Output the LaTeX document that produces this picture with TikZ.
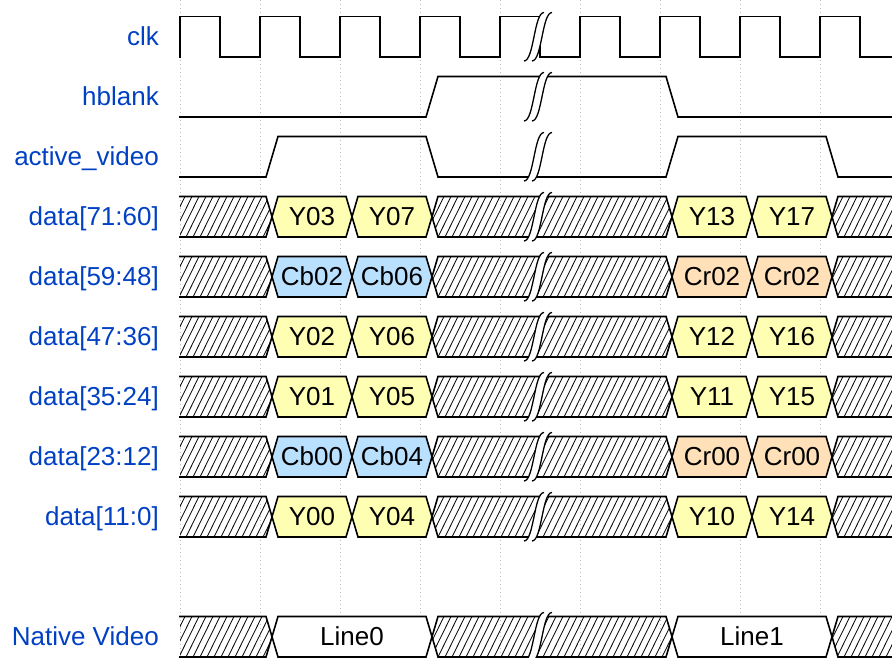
\documentclass[tikz,border=0pt]{standalone}
\usepackage{fontspec}
\setmainfont{Liberation Sans}
\definecolor{lblblue}{HTML}{0041C4}
\definecolor{dyel}{HTML}{FFFFB4}
\definecolor{dblu}{HTML}{B9E0FF}
\definecolor{dorg}{HTML}{FFE0B9}
\definecolor{gridc}{HTML}{BBBBBB}
\newcommand\setrow[1]{\pgfmathsetmacro\rT{16.5+60*#1}\pgfmathsetmacro\rB{57+60*#1}\pgfmathsetmacro\rM{(\rT+\rB)/2}}
\newcommand\hatchfill[1]{\begin{scope}\clip #1; \foreach \hx in {130,137,...,900} \draw[hatchln] (\hx,\rB) -- (\hx+20,\rT); \end{scope}}
\newcommand\dbox[5]{%
  \draw[sig, fill=#3] (#1,\rM) -- (#1+6,\rT) -- (#2-6,\rT) -- (#2,\rM) -- (#2-6,\rB) -- (#1+6,\rB) -- cycle;
  \node[boxtxt] (#5) at ({(#1+#2)/2},\rM+8.5) {#4};}
\newcommand\hatchrow{%
  \hatchfill{(180,\rT) -- (266,\rT) -- (272,\rM) -- (266,\rB) -- (180,\rB) -- cycle}
  \draw[sig] (180,\rT) -- (266,\rT) -- (272,\rM) -- (266,\rB) -- (180,\rB);
  \hatchfill{(432,\rM) -- (438,\rT) -- (666,\rT) -- (672,\rM) -- (666,\rB) -- (438,\rB) -- cycle}
  \draw[sig] (432,\rM) -- (438,\rT) -- (666,\rT) -- (672,\rM) -- (666,\rB) -- (438,\rB) -- cycle;
  \hatchfill{(832,\rM) -- (838,\rT) -- (900,\rT) -- (900,\rB) -- (838,\rB) -- cycle}
  \draw[sig] (900,\rT) -- (838,\rT) -- (832,\rM) -- (838,\rB) -- (900,\rB);}
\newcommand\gapmark{%
  \fill[white] (524,\rB+4) .. controls (534,\rB+4) and (534,\rT-4) .. (544,\rT-4) -- (552,\rT-4) .. controls (542,\rT-4) and (542,\rB+4) .. (532,\rB+4) -- cycle;
  \draw[gapln] (524,\rB+4) .. controls (534,\rB+4) and (534,\rT-4) .. (544,\rT-4);
  \draw[gapln] (532,\rB+4) .. controls (542,\rB+4) and (542,\rT-4) .. (552,\rT-4);}
% row index, prefix, label, fill1, t1, t2, fill2, t3, t4
\newcommand\datarow[9]{%
  \setrow{#1}
  \node[lbl] (#2-lbl) at (159,\rM+8.5) {#3};
  \hatchrow
  \dbox{272}{352}{#4}{#5}{#2-a}
  \dbox{352}{432}{#4}{#6}{#2-b}
  \dbox{672}{752}{#7}{#8}{#2-c}
  \dbox{752}{832}{#7}{#9}{#2-d}
  \gapmark}
\begin{document}
\begin{tikzpicture}[x=1pt,y=-1pt,
  sig/.style={line width=1.6pt, line join=miter, line cap=rect},
  hatchln/.style={line width=0.8pt},
  gapln/.style={line width=1.3pt},
  gridln/.style={gridc, line width=0.8pt, dash pattern=on 1pt off 3pt},
  lbl/.style={anchor=base east, text=lblblue, font=\fontsize{26}{30}\selectfont, inner sep=0pt},
  boxtxt/.style={anchor=base, font=\fontsize{26}{30}\selectfont, inner sep=0pt},
]
\useasboundingbox (0,0) rectangle (892,658);
\clip (0,0) rectangle (892,658);
\fill[white] (0,0) rectangle (892,658);
\foreach \gx in {180,260,...,820} \draw[gridln] (\gx,0) -- (\gx,658);
% clk
\setrow{0}
\node[lbl] (clk-lbl) at (159,\rM+8.5) {clk};
\draw[sig] (180,\rB) -- (180,\rT) \foreach \k in {0,...,8} { -- ({180+80*\k+40},\rT) -- ({180+80*\k+40},\rB) -- ({180+80*\k+80},\rB) -- ({180+80*\k+80},\rT) };
\gapmark
% hblank
\setrow{1}
\node[lbl] (hb-lbl) at (159,\rM+8.5) {hblank};
\draw[sig] (180,\rB) -- (426,\rB) -- (438,\rT) -- (666,\rT) -- (678,\rB) -- (900,\rB);
\gapmark
% active_video
\setrow{2}
\node[lbl] (av-lbl) at (159,\rM+8.5) {active\_video};
\draw[sig] (180,\rB) -- (266,\rB) -- (278,\rT) -- (426,\rT) -- (438,\rB) -- (666,\rB) -- (678,\rT) -- (826,\rT) -- (838,\rB) -- (900,\rB);
\gapmark
% data rows
\datarow{3}{d71}{data[71:60]}{dyel}{Y03}{Y07}{dyel}{Y13}{Y17}
\datarow{4}{d59}{data[59:48]}{dblu}{Cb02}{Cb06}{dorg}{Cr02}{Cr02}
\datarow{5}{d47}{data[47:36]}{dyel}{Y02}{Y06}{dyel}{Y12}{Y16}
\datarow{6}{d35}{data[35:24]}{dyel}{Y01}{Y05}{dyel}{Y11}{Y15}
\datarow{7}{d23}{data[23:12]}{dblu}{Cb00}{Cb04}{dorg}{Cr00}{Cr00}
\datarow{8}{d11}{data[11:0]}{dyel}{Y00}{Y04}{dyel}{Y10}{Y14}
% native video
\setrow{10}
\node[lbl] (nv-lbl) at (159,\rM+8.5) {Native Video};
\hatchrow
\draw[sig, fill=white] (272,\rM) -- (278,\rT) -- (426,\rT) -- (432,\rM) -- (426,\rB) -- (278,\rB) -- cycle;
\node[boxtxt] (nv-a) at (352,\rM+8.5) {Line0};
\draw[sig, fill=white] (672,\rM) -- (678,\rT) -- (826,\rT) -- (832,\rM) -- (826,\rB) -- (678,\rB) -- cycle;
\node[boxtxt] (nv-b) at (752,\rM+8.5) {Line1};
\gapmark
\end{tikzpicture}
\end{document}
